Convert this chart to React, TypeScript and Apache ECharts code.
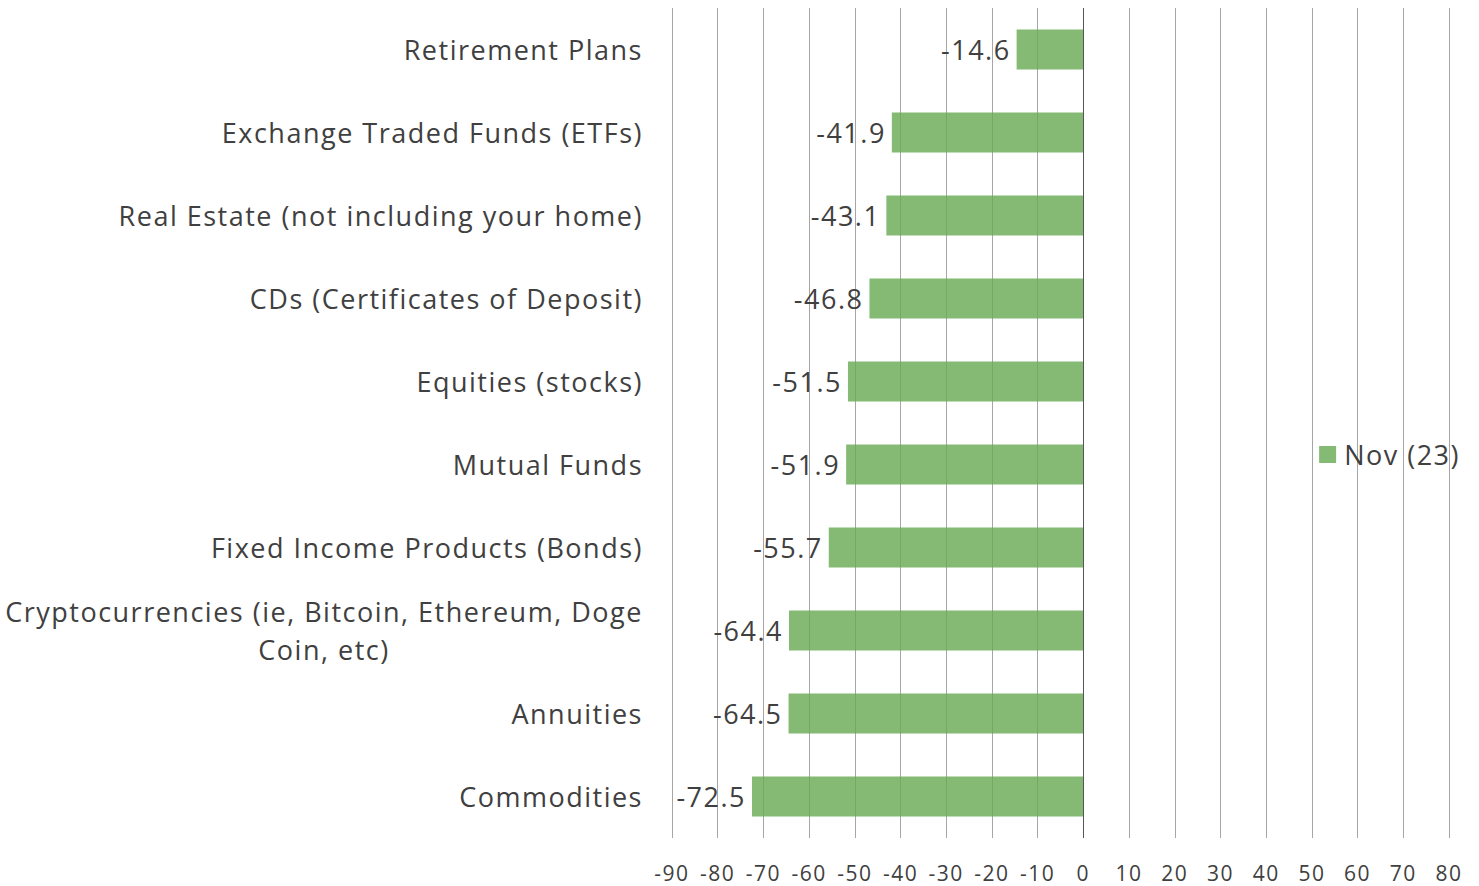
import React, { useEffect, useRef } from "react";
import * as echarts from "echarts";

const categories = [
  "Retirement Plans",
  "Exchange Traded Funds (ETFs)",
  "Real Estate (not including your home)",
  "CDs (Certificates of Deposit)",
  "Equities (stocks)",
  "Mutual Funds",
  "Fixed Income Products (Bonds)",
  "Cryptocurrencies (ie, Bitcoin, Ethereum, Doge Coin, etc)",
  "Annuities",
  "Commodities",
];
const values = [-14.6, -41.9, -43.1, -46.8, -51.5, -51.9, -55.7, -64.4, -64.5, -72.5];
const seriesName = "Nov (23)";

const FONT = "'Open Sans', Lato, sans-serif";
const TEXT = "#404040";
const FS = 27;
const LS = 1.5;

export default function App() {
  const ref = useRef<HTMLDivElement>(null);
  useEffect(() => {
    if (!ref.current) return;
    const chart = echarts.init(ref.current, null, { renderer: "svg" });
    const cryptoLine1 = "Cryptocurrencies (ie, Bitcoin, Ethereum, Doge";
    const cryptoLine2 = "Coin, etc)";
    let w1 = 640;
    try {
      const c = document.createElement("canvas").getContext("2d");
      if (c) {
        c.font = `${FS}px ${FONT}`;
        w1 = Math.ceil(c.measureText(cryptoLine1).width + cryptoLine1.length * LS);
      }
    } catch (e) {}
    chart.setOption({
      animation: false,
      textStyle: { fontFamily: FONT },
      grid: { left: 672, right: 30, top: 8, bottom: 48 },
      legend: {
        data: [seriesName],
        orient: "vertical",
        right: 26,
        top: 436,
        icon: "rect",
        itemWidth: 17,
        itemHeight: 17,
        itemGap: 8,
        textStyle: { fontSize: FS, color: TEXT, fontFamily: FONT, padding: [0, 0, 0, 3] },
      },
      xAxis: {
        type: "value",
        min: -90,
        max: 80,
        interval: 10,
        axisLine: { show: false },
        axisTick: { show: false },
        axisLabel: { fontSize: 21, color: TEXT, margin: 24, fontFamily: FONT },
        splitLine: { show: true, lineStyle: { color: "#a6a6a6", width: 1 } },
      },
      yAxis: {
        type: "category",
        data: categories,
        inverse: true,
        axisLine: { show: false },
        axisTick: { show: false },
        axisLabel: {
          fontSize: FS,
          color: TEXT,
          margin: 29,
          fontFamily: FONT,
          lineHeight: 38,
          formatter: (v: string) =>
            v.startsWith("Cryptocurrencies")
              ? `{c|${cryptoLine1}}\n{c|${cryptoLine2}}`
              : v,
          rich: {
            c: {
              width: w1,
              align: "center",
              fontSize: FS,
              color: TEXT,
              fontFamily: FONT,
              lineHeight: 38,
            },
          },
        },
      },
      series: [
        {
          name: seriesName,
          type: "bar",
          data: values,
          barWidth: 40,
          itemStyle: { color: "rgba(106,171,85,0.82)" },
          label: {
            show: true,
            position: "left",
            distance: 6,
            fontSize: FS,
            color: TEXT,
            fontFamily: FONT,
          },
          markLine: {
            silent: true,
            symbol: "none",
            label: { show: false },
            lineStyle: { color: "#555555", type: "solid", width: 1 },
            data: [{ xAxis: 0 }],
          },
        },
      ],
    });
    return () => chart.dispose();
  }, []);
  return (
    <div
      ref={ref}
      style={{
        position: "fixed",
        left: 0,
        top: 0,
        width: 1479,
        height: 886,
        background: "#fff",
        letterSpacing: `${LS}px`,
      }}
    />
  );
}
